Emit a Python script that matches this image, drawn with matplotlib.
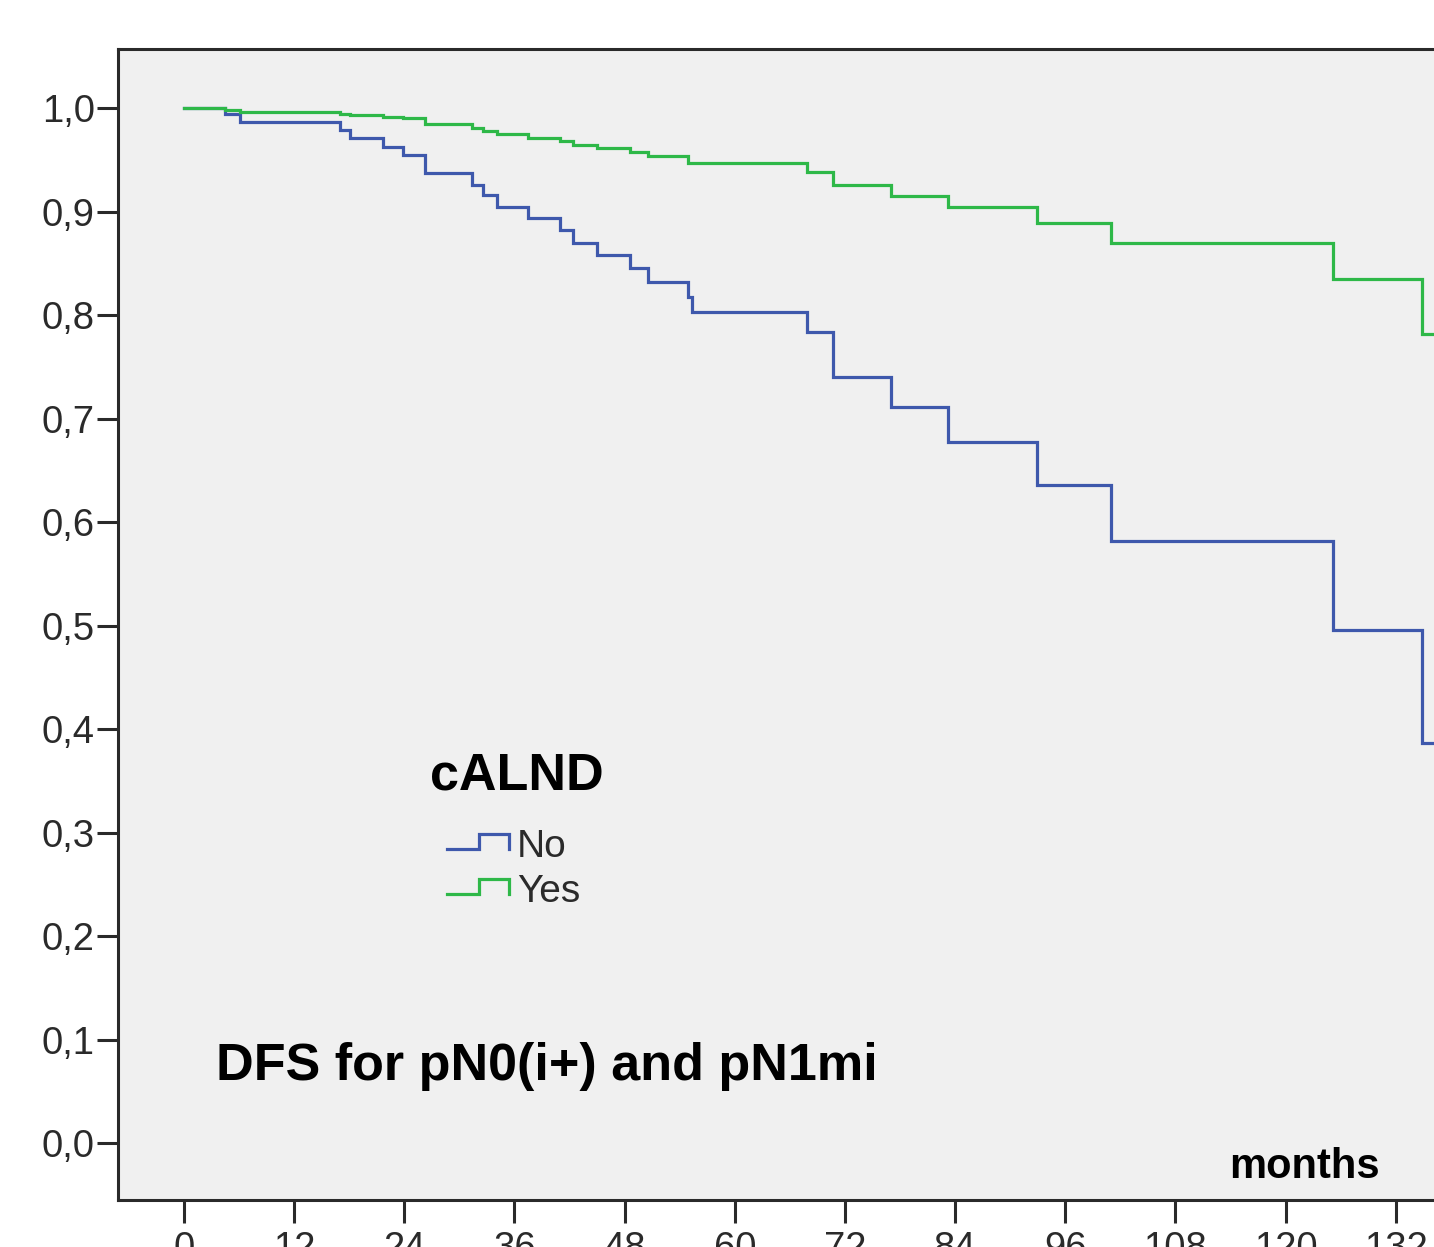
import numpy as np
import matplotlib
matplotlib.use("Agg")
import matplotlib.pyplot as plt
from matplotlib.lines import Line2D
from matplotlib.legend_handler import HandlerBase
from matplotlib.ticker import FuncFormatter, FixedLocator

plt.rcParams['font.family'] = ['Liberation Sans', 'DejaVu Sans']

# ---- data ----
groups = ["No", "Yes"]
legend_title = "cALND"
annotation = "DFS for pN0(i+) and pN1mi"
x_label = "months"

time_no = [0, 4.5, 6.1, 17.0, 18.1, 21.7, 23.9, 26.3, 31.4, 32.6, 34.1, 37.5, 41.0,
           42.4, 45.0, 48.6, 50.5, 54.9, 55.3, 67.9, 70.7, 77.0, 83.2, 92.9, 101.0,
           125.2, 134.9, 140.0]
surv_no = [1.0, 0.9945, 0.9871, 0.9790, 0.9716, 0.9626, 0.9552, 0.9372, 0.9259,
           0.9162, 0.9049, 0.8937, 0.8824, 0.8701, 0.8583, 0.8454, 0.8325, 0.8180,
           0.8035, 0.7841, 0.7407, 0.7117, 0.6779, 0.6356, 0.5822, 0.4963, 0.3871,
           0.3871]

time_yes = [0, 4.5, 6.1, 17.0, 18.1, 21.7, 23.9, 26.3, 31.4, 32.6, 34.1, 37.5, 41.0,
            42.4, 45.0, 48.6, 50.5, 54.9, 67.9, 70.7, 77.0, 83.2, 92.9, 101.0,
            125.2, 134.9, 140.0]
surv_yes = [1.0, 0.9984, 0.9967, 0.9945, 0.9935, 0.9919, 0.9903, 0.9845, 0.9812,
            0.9780, 0.9749, 0.9716, 0.9687, 0.9645, 0.9614, 0.9581, 0.9539, 0.9469,
            0.9388, 0.9259, 0.9157, 0.9049, 0.8896, 0.8701, 0.8351, 0.7824, 0.7824]

x_ticks = list(range(0, 133, 12))
y_ticks = [0.0, 0.1, 0.2, 0.3, 0.4, 0.5, 0.6, 0.7, 0.8, 0.9, 1.0]

col_no = "#3E58AC"
col_yes = "#2EB848"

# ---- figure ----
W, H = 1434, 1247
fig = plt.figure(figsize=(W / 100, H / 100), dpi=100)
fig.patch.set_facecolor("white")

ax_left, ax_right, ax_top, ax_bottom = 118, 1434, 49, 1200
ax = fig.add_axes([ax_left / W, (H - ax_bottom) / H,
                   (ax_right - ax_left) / W, (ax_bottom - ax_top) / H])
ax.set_facecolor("#F0F0F0")

px_per_month = 9.18
x0_px = 184
ax.set_xlim((ax_left - x0_px) / px_per_month, (ax_right - x0_px) / px_per_month)
px_per_unit = 1035.0
y0_px = 1143.3
ax.set_ylim(-(ax_bottom - y0_px) / px_per_unit, 1 + (108.3 - ax_top) / px_per_unit)

l_no, = ax.step(time_no, surv_no, where="post", color=col_no, lw=2.3,
                solid_joinstyle="miter")
l_yes, = ax.step(time_yes, surv_yes, where="post", color=col_yes, lw=2.3,
                 solid_joinstyle="miter")

spine_col = "#2a2a2a"
for s in ["left", "top", "bottom"]:
    ax.spines[s].set_color(spine_col)
    ax.spines[s].set_linewidth(2.2)
ax.spines["right"].set_visible(False)

ax.xaxis.set_major_locator(FixedLocator(x_ticks))
ax.yaxis.set_major_locator(FixedLocator(y_ticks))
ax.yaxis.set_major_formatter(FuncFormatter(lambda v, p: f"{v:.1f}".replace(".", ",")))
ax.tick_params(axis="y", length=15, width=2.2, color=spine_col, pad=1.8,
               labelsize=27.5, labelcolor="#2a2a2a")
ax.tick_params(axis="x", length=16.5, width=2.2, color=spine_col, pad=5.6,
               labelsize=27.5, labelcolor="#2a2a2a")

ax.text((1229 - ax_left) / (ax_right - ax_left), (ax_bottom - 1178) / (ax_bottom - ax_top),
        x_label, transform=ax.transAxes, ha="left", va="baseline",
        fontsize=30, fontweight="bold", color="black")
ax.text((216 - ax_left) / (ax_right - ax_left), (ax_bottom - 1080) / (ax_bottom - ax_top),
        annotation, transform=ax.transAxes, ha="left", va="baseline",
        fontsize=37.5, fontweight="bold", color="black")


class StepHandler(HandlerBase):
    def create_artists(self, legend, orig_handle, xdescent, ydescent, width,
                       height, fontsize, trans):
        xs = np.array([0.207, 0.598, 0.598, 0.963, 0.963]) * width - xdescent
        ys = np.array([0.30, 0.30, 0.85, 0.85, 0.30]) * height - ydescent
        ln = Line2D(xs, ys, color=orig_handle.get_color(),
                    lw=orig_handle.get_linewidth(), transform=trans,
                    solid_joinstyle="miter")
        return [ln]


leg = ax.legend(handles=[l_no, l_yes], labels=groups, title=legend_title,
                loc="upper left", bbox_to_anchor=(430 / W, (H - 751) / H),
                bbox_transform=fig.transFigure, frameon=False, fontsize=28,
                title_fontproperties={"weight": "bold", "size": 37.5},
                alignment="left", borderpad=0, borderaxespad=0,
                handlelength=2.11, handletextpad=0.13, labelspacing=0.24,
                handler_map={Line2D: StepHandler()})
for t in leg.get_texts():
    t.set_color("#2a2a2a")
leg._legend_box.sep = 21

fig.savefig("out.png", dpi=100)
